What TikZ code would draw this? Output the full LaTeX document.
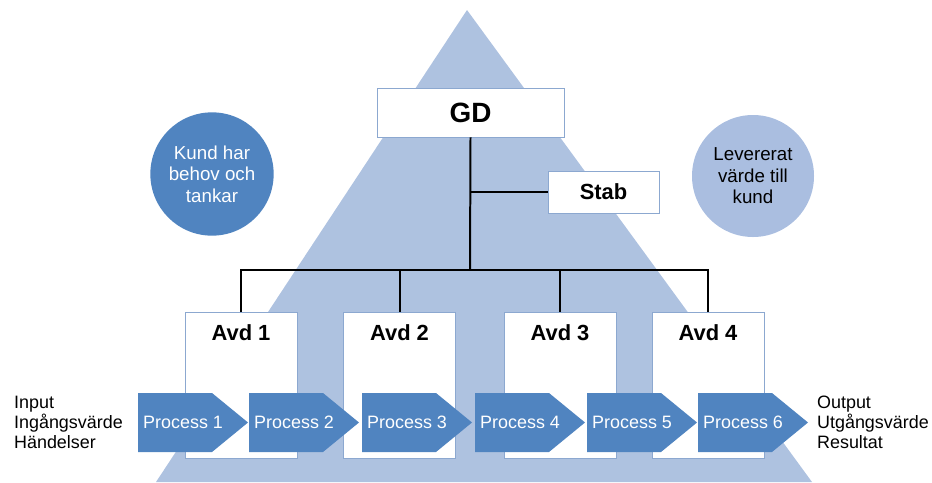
\documentclass[tikz,border=0pt]{standalone}
\usepackage{fontspec}
\setmainfont{Liberation Sans}
\usetikzlibrary{positioning}
\definecolor{pyramid}{RGB}{174,194,224}
\definecolor{procblue}{RGB}{80,132,192}
\definecolor{lightball}{RGB}{170,190,224}
\definecolor{edgeblue}{RGB}{140,168,208}
\tikzset{
	block/.style={draw=edgeblue, fill=white, line width=0.8pt},
	proc/.style={fill=procblue},
	proctext/.style={anchor=west, text=white, inner sep=0pt, font=\fontsize{15.3}{18}\selectfont},
	bubble/.style={circle, minimum size=37mm, inner sep=0pt, align=center, font=\fontsize{16}{18.4}\selectfont},
	side/.style={anchor=west, align=left, font=\fontsize{15.3}{17}\selectfont},
	wire/.style={line width=1.7pt}
}

\begin{document}
\begin{tikzpicture}[x=0.3mm, y=-0.3mm]
		\useasboundingbox (0,0) rectangle (932,482);
		\fill[pyramid] (467,10) -- (812,482) -- (156,482) -- cycle;
		
		\node[bubble, fill=procblue, text=white] (kund) at (212,174) {Kund har\\behov och\\tankar};
		\node[bubble, fill=lightball, minimum size=36.6mm] (varde) at (753,176) {Levererat\\värde till\\kund};
		
		\node[block, minimum width=56.1mm, minimum height=14.7mm, font=\bfseries\fontsize{23.8}{26}\selectfont] (gd) at (470.5,112.5) {GD};
		\node[block, minimum width=33.3mm, minimum height=12.6mm, font=\bfseries\fontsize{18.7}{21}\selectfont] (stab) at (603.5,192) {Stab};
		
		\node[block, minimum width=33.6mm, minimum height=43.8mm] (avd1) at (241,385) {};
		\node[block, minimum width=33.6mm, minimum height=43.8mm] (avd2) at (399.5,385) {};
		\node[block, minimum width=33.6mm, minimum height=43.8mm] (avd3) at (560,385) {};
		\node[block, minimum width=33.6mm, minimum height=43.8mm] (avd4) at (708,385) {};
		\foreach \i in {1,...,4}
			\node[font=\bfseries\fontsize{18.7}{21}\selectfont] at ([yshift=-6.3mm]avd\i.north) {Avd \i};
		
		\coordinate (bar) at (470,270);
		\draw[wire] (gd.south) -- (bar);
		\draw[wire] (gd.south |- stab.west) -- (stab.west);
		\draw[wire] (avd1.north) |- (avd4.north |- bar) -- (avd4.north);
		\draw[wire] (avd2.north) -- (avd2.north |- bar);
		\draw[wire] (avd3.north) -- (avd3.north |- bar);
		
		% process chain
		\foreach \i/\x in {1/138, 2/249, 3/362, 4/475, 5/587, 6/698} {
			\fill[proc] (\x,393) -- ++(74,0) -- ++(36,29.5) -- ++(-36,29.5) -- ++(-74,0) -- cycle;
			\node[proctext] (p\i) at (\x+5,422.5) {Process \i};
		}
		
		\node[side] (input) at (10,422) {Input\\Ingångsvärde\\Händelser};
		\node[side] (output) at (813,422) {Output\\Utgångsvärde\\Resultat};
	\end{tikzpicture}
\end{document}
